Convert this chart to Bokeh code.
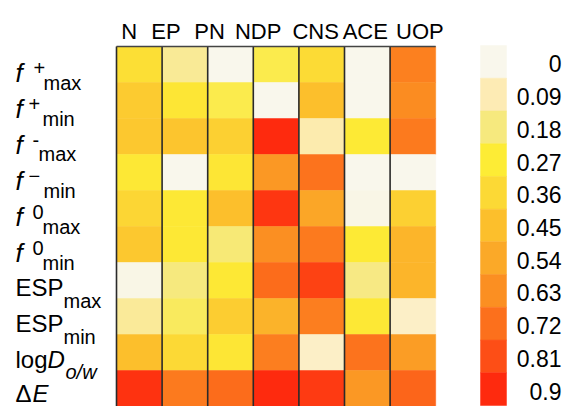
import numpy as np
from bokeh.plotting import figure
from bokeh.models import ColumnDataSource, LinearColorMapper, Range1d
from bokeh.core.properties import value
from bokeh.embed import file_html
from bokeh.resources import INLINE

# ---------------- data ----------------
columns = ["N", "EP", "PN", "NDP", "CNS", "ACE", "UOP"]

# row label pieces (top to bottom)
row_upright = ["", "", "", "", "", "", "ESP", "ESP", "log", "Δ"]
row_italic = ["f", "f", "f", "f", "f", "f", "", "", "D", "E"]
row_sup = ["+", "+", "-", "−", "0", "0", "", "", "", ""]
row_sub = ["max", "min", "max", "min", "max", "min", "max", "min", "o/w", ""]

# values per row (columns N, EP, PN, NDP, CNS, ACE, UOP)
f_plus_max = [0.33, 0.14, 0.00, 0.24, 0.35, 0.00, 0.675]
f_plus_min = [0.41, 0.30, 0.24, 0.00, 0.45, 0.00, 0.64]
f_minus_max = [0.42, 0.43, 0.39, 0.90, 0.10, 0.28, 0.69]
f_minus_min = [0.29, 0.00, 0.30, 0.60, 0.71, 0.00, 0.00]
f_zero_max = [0.37, 0.29, 0.45, 0.87, 0.55, 0.01, 0.39]
f_zero_min = [0.42, 0.29, 0.19, 0.63, 0.69, 0.28, 0.49]
esp_max = [0.01, 0.18, 0.29, 0.73, 0.84, 0.17, 0.49]
esp_min = [0.135, 0.22, 0.40, 0.50, 0.68, 0.29, 0.06]
log_d = [0.45, 0.36, 0.30, 0.68, 0.06, 0.71, 0.58]
delta_e = [0.88, 0.69, 0.73, 0.90, 0.86, 0.60, 0.75]

rows_values = [f_plus_max, f_plus_min, f_minus_max, f_minus_min, f_zero_max,
               f_zero_min, esp_max, esp_min, log_d, delta_e]

cb_ticks = [0, 0.09, 0.18, 0.27, 0.36, 0.45, 0.54, 0.63, 0.72, 0.81, 0.9]
cb_labels = ["0", "0.09", "0.18", "0.27", "0.36", "0.45", "0.54", "0.63", "0.72", "0.81", "0.9"]
palette11 = ["#F9F7EC", "#FDEBB4", "#F6E97E", "#FDEC35", "#FCD935", "#FCBF2C",
             "#FBA928", "#FB8F22", "#FC701C", "#FD4E16", "#FE2A0E"]

# ---------------- styling / layout ----------------
W, H = 564, 406
LEFT = 116          # heatmap left edge (px)
COLW = 45.6         # column width (px)
ROWH = 36           # row height (px)
TOP = 46            # heatmap top (px)
FONT = value("Liberation Sans")

ncol, nrow = len(columns), len(rows_values)

def px2x(px):
    return (px - LEFT) / COLW

# continuous palette for cells, interpolated between colour-bar stops
def hex2rgb(h):
    return np.array([int(h[i:i + 2], 16) for i in (1, 3, 5)], dtype=float)

stops = np.array([hex2rgb(c) for c in palette11])
pos = np.linspace(0, 1, len(stops))
fine = np.linspace(0, 1, 181)
interp = ["#%02x%02x%02x" % tuple(int(round(np.interp(t, pos, stops[:, k]))) for k in range(3))
          for t in fine]
mapper = LinearColorMapper(palette=interp, low=cb_ticks[0], high=cb_ticks[-1])

p = figure(width=W, height=H,
           x_range=Range1d(px2x(0), px2x(W)),
           y_range=Range1d(nrow - (H - TOP) / ROWH, nrow + TOP / ROWH),
           x_axis_location=None, y_axis_location=None,
           output_backend="svg", toolbar_location=None, min_border=0)
p.grid.visible = False
p.outline_line_color = None
p.background_fill_color = "white"
p.border_fill_color = "white"

# cells
xs, ys, vs = [], [], []
for r, vals in enumerate(rows_values):
    for c, v in enumerate(vals):
        xs.append(c + 0.5)
        ys.append(nrow - r - 0.5)
        vs.append(v)
src = ColumnDataSource(dict(x=xs, y=ys, v=vs))
p.rect(x="x", y="y", width=1, height=1, source=src,
       fill_color={"field": "v", "transform": mapper},
       line_color={"field": "v", "transform": mapper}, line_width=0.5)

# column separators and top border
sep_x = list(range(ncol))
p.segment(x0=sep_x, y0=[0] * ncol, x1=sep_x, y1=[nrow] * ncol,
          line_color="#2a2a2a", line_width=1.6)
p.segment(x0=[0], y0=[nrow], x1=[ncol], y1=[nrow], line_color="#444444", line_width=1.6)

# column labels
col_dx = [-10, -19, -21, -18, -6, -2, 7]
p.text(x=[i + 0.5 for i in range(ncol)], y=[nrow] * ncol, text=columns,
       x_offset=col_dx, y_offset=[-15] * ncol,
       text_font=FONT, text_font_size="22px", text_align="center",
       text_baseline="alphabetic", text_color="black")

# row labels (style / layout lists per row)
row_y = [nrow - r - 0.5 for r in range(nrow)]
main_dy = [8, 8, 8, 8, 8, 8, 7, 7, 7, 5]
italic_dx = [15, 15, 15, 15, 15, 15, 0, 0, 47, 32]
italic_size = ["26px"] * 6 + ["24px"] * 4
sup_dx = [33, 28, 32, 28, 32, 32, 0, 0, 0, 0]
sub_dx = [43, 42, 38, 43, 42, 42, 63, 63, 65, 0]
sub_dy = [18, 18, 17, 18, 18, 18, 20, 20, 19, 0]
sub_style = ["normal"] * 8 + ["italic", "normal"]
x0 = px2x(0)


def label_layer(texts, dx, dy, size, style):
    keep = [i for i, t in enumerate(texts) if t]
    s = ColumnDataSource(dict(
        x=[x0] * len(keep), y=[row_y[i] for i in keep], t=[texts[i] for i in keep],
        dx=[dx[i] for i in keep], dy=[dy[i] for i in keep],
        sz=[size[i] for i in keep], st=[style[i] for i in keep]))
    p.text(x="x", y="y", text="t", source=s, x_offset="dx", y_offset="dy",
           text_font=FONT, text_font_size="sz", text_font_style="st",
           text_align="left", text_baseline="alphabetic", text_color="black")


label_layer(row_upright, [15] * nrow, main_dy, ["24px"] * nrow, ["normal"] * nrow)
label_layer(row_italic, italic_dx, main_dy, italic_size, ["italic"] * nrow)
label_layer(row_sup, sup_dx, [3] * nrow, ["20px"] * nrow, ["normal"] * nrow)
label_layer(row_sub, sub_dx, sub_dy, ["20px"] * nrow, sub_style)

# colour bar (blocks centred on tick values, 0 at top)
CB_TOP, CB_BLOCK = 45, 360 / len(cb_ticks)
step = cb_ticks[1] - cb_ticks[0]
top_val = cb_ticks[0] - (0.5 + CB_TOP / CB_BLOCK) * step
bot_val = top_val + H / CB_BLOCK * step
p.extra_y_ranges = {"cb": Range1d(start=bot_val, end=top_val)}
cb_src = ColumnDataSource(dict(v=cb_ticks, c=palette11, lab=cb_labels))
p.rect(x=px2x(493), y="v", width=26, width_units="screen", height=step,
       source=cb_src, y_range_name="cb", fill_color="c", line_color="c", line_width=0.5)
p.text(x=px2x(561), y="v", text="lab", source=cb_src, y_range_name="cb",
       y_offset=2, text_font=FONT, text_font_size="23px", text_align="right",
       text_baseline="middle", text_color="black")

open("out.html", "w").write(file_html(p, INLINE))
